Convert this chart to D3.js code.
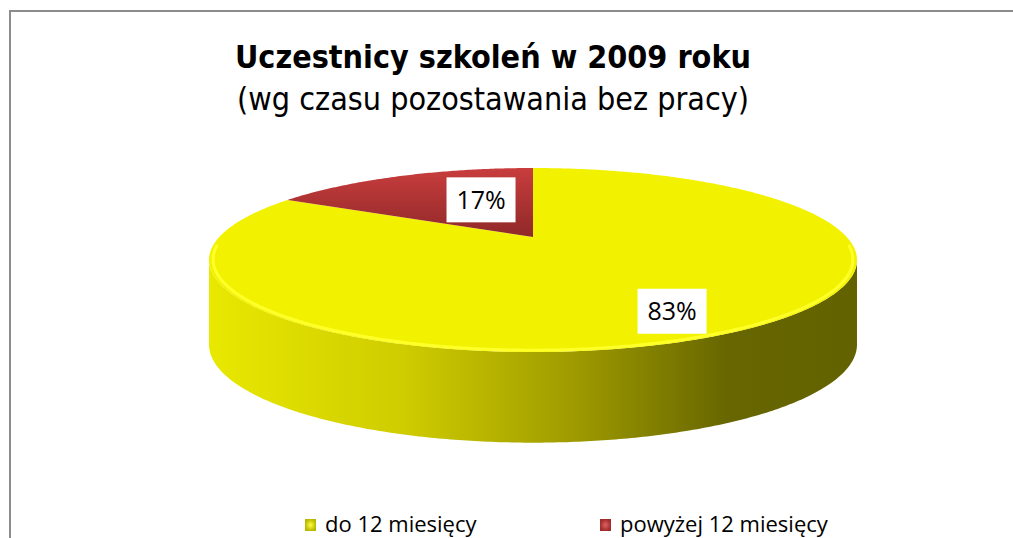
<!DOCTYPE html>
<meta charset="utf-8">
<style>
  body { margin: 0; background: #fff; }
  svg { display: block; }
  .title { font-family: "DejaVu Sans Condensed", "DejaVu Sans", sans-serif; font-weight: bold; }
  .subtitle { font-family: "DejaVu Sans Condensed", "DejaVu Sans", sans-serif; }
  .lbl, .legend { font-family: "Open Sans", "Noto Sans", sans-serif; fill: #000; }
</style>
<svg width="1013" height="538"></svg>
<script src="https://d3js.org/d3.v7.min.js"></script>
<script>
  // Data
  var categories = ["do 12 miesięcy", "powyżej 12 miesięcy"];
  var values = [83, 17];
  var labels = ["83%", "17%"];

  var svg = d3.select("svg");

  // pie geometry (perspective ellipse)
  var cx = 533, cy = 237, rx = 313.7, ry = 86.25, k = 0.25;

  function proj(a, r, drop) {
    var u = r * Math.sin(a), v = -r * Math.cos(a), w = 1 - k * v;
    var dy = drop ? (60 + 23 / w) : 0;
    return [cx + rx * u / w, cy + ry * v / w + dy];
  }

  function arcPoints(a0, a1, r, drop) {
    var n = Math.max(2, Math.ceil(Math.abs(a1 - a0) / 0.01));
    return d3.range(n + 1).map(function (i) {
      return proj(a0 + (a1 - a0) * i / n, r, drop);
    });
  }

  var line = d3.line();

  var defs = svg.append("defs");

  var sideGrad = defs.append("linearGradient")
    .attr("id", "side")
    .attr("gradientUnits", "userSpaceOnUse")
    .attr("x1", 210).attr("x2", 857).attr("y1", 0).attr("y2", 0);
  [[0, "#e8e800"], [0.3, "#cfcc00"], [0.55, "#a19d00"], [0.8, "#676600"], [1, "#626200"]]
    .forEach(function (s) {
      sideGrad.append("stop").attr("offset", s[0]).attr("stop-color", s[1]);
    });

  var redGrad = defs.append("linearGradient")
    .attr("id", "red")
    .attr("gradientUnits", "userSpaceOnUse")
    .attr("x1", 0).attr("x2", 0).attr("y1", 168).attr("y2", 238);
  redGrad.append("stop").attr("offset", 0).attr("stop-color", "#c93d3d");
  redGrad.append("stop").attr("offset", 1).attr("stop-color", "#8f2828");

  var lgY = defs.append("radialGradient").attr("id", "lgY");
  lgY.append("stop").attr("offset", 0).attr("stop-color", "#ffff40");
  lgY.append("stop").attr("offset", 1).attr("stop-color", "#b8b800");
  var lgR = defs.append("radialGradient").attr("id", "lgR");
  lgR.append("stop").attr("offset", 0).attr("stop-color", "#e06060");
  lgR.append("stop").attr("offset", 1).attr("stop-color", "#a02c2c");

  var topColors = ["#f2f200", "url(#red)"];
  var legendColors = ["url(#lgY)", "url(#lgR)"];

  // frame
  svg.append("path")
    .attr("d", "M10,538V11H1013")
    .attr("fill", "none")
    .attr("stroke", "#8c8c8c")
    .attr("stroke-width", 2);

  // titles
  svg.append("text").attr("class", "title")
    .attr("x", 493).attr("y", 68)
    .attr("text-anchor", "middle")
    .attr("font-size", 32)
    .text("Uczestnicy szkoleń w 2009 roku");
  svg.append("text").attr("class", "subtitle")
    .attr("x", 493).attr("y", 110)
    .attr("text-anchor", "middle")
    .attr("font-size", 32)
    .text("(wg czasu pozostawania bez pracy)");

  var arcs = d3.pie().sort(null).value(function (d) { return d; })(values);

  // side wall (front, visible part)
  var sil = Math.acos(-k);
  var a0 = sil, a1 = 2 * Math.PI - sil;
  var topEdge = arcPoints(a0, a1, 1, false);
  var botEdge = arcPoints(a1, a0, 1, true);
  svg.append("path")
    .attr("d", line(topEdge.concat(botEdge)) + "Z")
    .attr("fill", "url(#side)");

  // top face
  svg.selectAll("path.slice")
    .data(arcs)
    .enter()
    .append("path")
    .attr("class", "slice")
    .attr("d", function (d) {
      return line([[cx, cy]].concat(arcPoints(d.startAngle, d.endAngle, 1, false))) + "Z";
    })
    .attr("fill", function (d, i) { return topColors[i]; });

  // bevel highlight along the front rim
  svg.append("path")
    .attr("d", line(arcPoints(a0 - 0.15, a1 + 0.15, 0.988, false)))
    .attr("fill", "none")
    .attr("stroke", "#ffff2a")
    .attr("stroke-width", 3)
    .attr("stroke-linecap", "round");

  // data labels
  var labelR = [0.72, 0.35];
  var nudge = [[3, 11], [0, -13]];
  var lg = svg.selectAll("g.lbl")
    .data(arcs)
    .enter()
    .append("g")
    .attr("transform", function (d, i) {
      var p = proj((d.startAngle + d.endAngle) / 2, labelR[i], false);
      return "translate(" + (p[0] + nudge[i][0]) + "," + (p[1] + nudge[i][1]) + ")";
    });
  lg.append("rect")
    .attr("x", -34.5).attr("y", -22.5)
    .attr("width", 69).attr("height", 45)
    .attr("fill", "#fff");
  lg.append("text")
    .attr("class", "lbl")
    .attr("text-anchor", "middle")
    .attr("y", 9)
    .attr("font-size", 25)
    .text(function (d, i) { return labels[i]; });

  // legend
  var legendX = [305, 600];
  var leg = svg.selectAll("g.legend")
    .data(categories)
    .enter()
    .append("g")
    .attr("transform", function (d, i) { return "translate(" + legendX[i] + ",519)"; });
  leg.append("rect")
    .attr("width", 11).attr("height", 12)
    .attr("fill", function (d, i) { return legendColors[i]; });
  leg.append("text")
    .attr("class", "legend")
    .attr("x", 20).attr("y", 13)
    .attr("font-size", 22)
    .text(function (d) { return d; });
</script>
